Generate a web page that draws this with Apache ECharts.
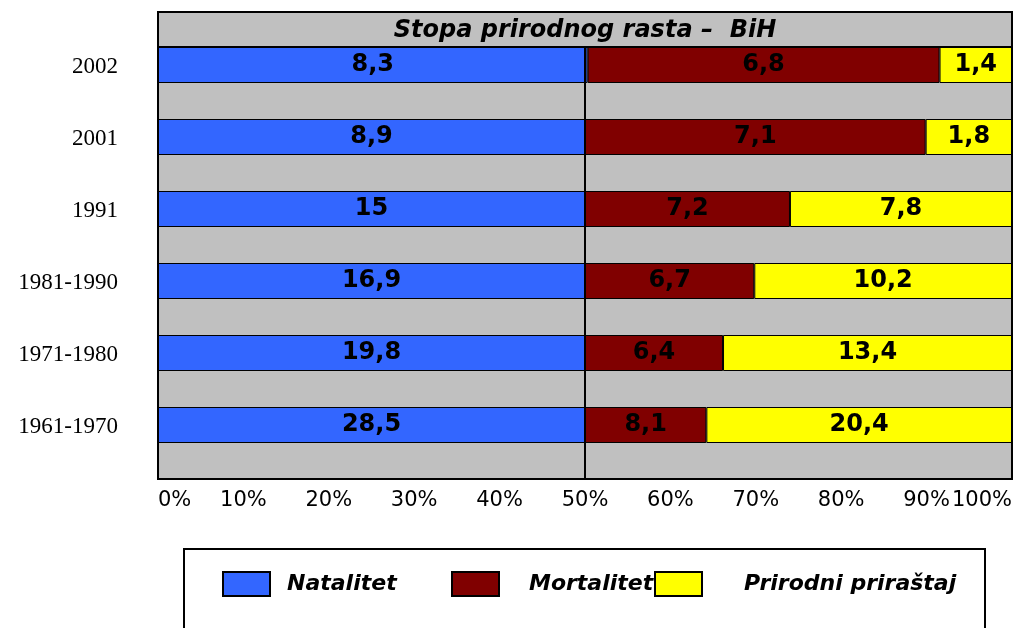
<!DOCTYPE html>
<html>
<head>
<meta charset="utf-8">
<title>Stopa prirodnog rasta – BiH</title>
<script src="https://cdn.jsdelivr.net/npm/echarts@6/dist/echarts.min.js"></script>
<style>
  html, body { margin: 0; padding: 0; background: #fff; }
  #chart { width: 1034px; height: 628px; }
</style>
</head>
<body>
<div id="chart"></div>
<script>
// Periods, top to bottom
const categories = ['2002', '2001', '1991', '1981-1990', '1971-1980', '1961-1970'];
// Rates per 1000 inhabitants
const natalitet  = [8.3, 8.9, 15, 16.9, 19.8, 28.5];
const mortalitet = [6.8, 7.1, 7.2, 6.7, 6.4, 8.1];
const prirastaj  = [1.4, 1.8, 7.8, 10.2, 13.4, 20.4];
const seriesNames = ['Natalitet', 'Mortalitet', 'Prirodni priraštaj'];
const seriesColors = ['#3366FF', '#800000', '#FFFF00'];

const totals = categories.map((_, i) => natalitet[i] + mortalitet[i] + prirastaj[i]);
// 100% stacking: each segment is its share of the row total, label keeps the rate
const toShare = arr => arr.map((v, i) => ({ value: v / totals[i] * 100, raw: v }));

const G = { left: 158, right: 1012, top: 47, bottom: 479, titleTop: 12 };
const legendFont = { fontFamily: 'DejaVu Sans', fontSize: 22, fontWeight: 'bold', fontStyle: 'italic', color: '#000' };

function barSeries(name, values, color, extra) {
  return Object.assign({
    name: name,
    type: 'bar',
    stack: 'rates',
    barWidth: 36,
    barGap: '0%',
    data: toShare(values),
    itemStyle: { color: color, borderColor: '#000', borderWidth: 1 },
    label: {
      show: true,
      position: 'inside',
      fontFamily: 'DejaVu Sans',
      fontSize: 24,
      fontWeight: 'bold',
      color: '#000',
      formatter: p => String(p.data.raw).replace('.', ',')
    },
    emphasis: { disabled: true }
  }, extra || {});
}

const chart = echarts.init(document.getElementById('chart'), null, { renderer: 'canvas' });

chart.setOption({
  backgroundColor: '#fff',
  animation: false,
  title: {
    text: 'Stopa prirodnog rasta –  BiH',
    left: (G.left + G.right) / 2,
    textAlign: 'center',
    top: 19,
    padding: 0,
    textStyle: { fontFamily: 'DejaVu Sans', fontSize: 24, fontWeight: 'bold', fontStyle: 'italic', color: '#000' }
  },
  legend: seriesNames.map((n, i) => ({
    data: [n],
    left: [222, 451, 654][i],
    top: 571,
    padding: 0,
    icon: 'rect',
    itemWidth: 47,
    itemHeight: 24,
    selectedMode: false,
    textStyle: Object.assign({ padding: [0, 0, 0, [12, 25, 37][i]] }, legendFont)
  })),
  grid: {
    left: G.left,
    right: 1034 - G.right,
    top: G.top,
    bottom: 628 - G.bottom,
    containLabel: false,
    outerBoundsMode: 'none'
  },
  xAxis: {
    type: 'value',
    min: 0,
    max: 100,
    interval: 10,
    axisLine: { show: false },
    axisTick: { show: false },
    splitLine: { show: false },
    axisLabel: {
      formatter: '{value}%',
      margin: 11,
      fontFamily: 'DejaVu Sans',
      fontSize: 21,
      color: '#000',
      alignMinLabel: 'left',
      alignMaxLabel: 'right'
    }
  },
  yAxis: {
    type: 'category',
    data: categories,
    inverse: true,
    axisLine: { show: false },
    axisTick: { show: false },
    splitLine: { show: false },
    axisLabel: {
      margin: 40,
      fontFamily: 'Liberation Serif',
      fontSize: 23,
      color: '#000',
      verticalAlign: 'bottom',
      lineHeight: 33
    }
  },
  graphic: [
    // plot background incl. title strip
    { type: 'rect', z: -10, silent: true,
      shape: { x: G.left, y: G.titleTop, width: G.right - G.left, height: G.bottom - G.titleTop },
      style: { fill: '#C0C0C0', stroke: null } },
    // frame on top
    { type: 'rect', z: 100, silent: true,
      shape: { x: G.left, y: G.titleTop, width: G.right - G.left, height: G.bottom - G.titleTop },
      style: { fill: null, stroke: '#000', lineWidth: 2 } },
    { type: 'line', z: 100, silent: true,
      shape: { x1: G.left, y1: G.top, x2: G.right, y2: G.top },
      style: { stroke: '#000', lineWidth: 2 } },
    // legend box
    { type: 'rect', z: 1, silent: true,
      shape: { x: 184, y: 549, width: 801, height: 120 },
      style: { fill: null, stroke: '#000', lineWidth: 2 } }
  ],
  series: [
    barSeries(seriesNames[0], natalitet, seriesColors[0], {
      markLine: {
        silent: true,
        symbol: 'none',
        label: { show: false },
        lineStyle: { color: '#000', width: 2, type: 'solid' },
        data: [{ xAxis: 50 }]
      }
    }),
    barSeries(seriesNames[1], mortalitet, seriesColors[1]),
    barSeries(seriesNames[2], prirastaj, seriesColors[2]),
    // empty lane below each row
    {
      name: 'lane',
      type: 'bar',
      stack: 'lane',
      barWidth: 36,
      barGap: '0%',
      silent: true,
      data: categories.map(() => 0),
      itemStyle: { color: 'rgba(0,0,0,0)', borderWidth: 0 },
      label: { show: false }
    }
  ]
});
</script>
</body>
</html>
